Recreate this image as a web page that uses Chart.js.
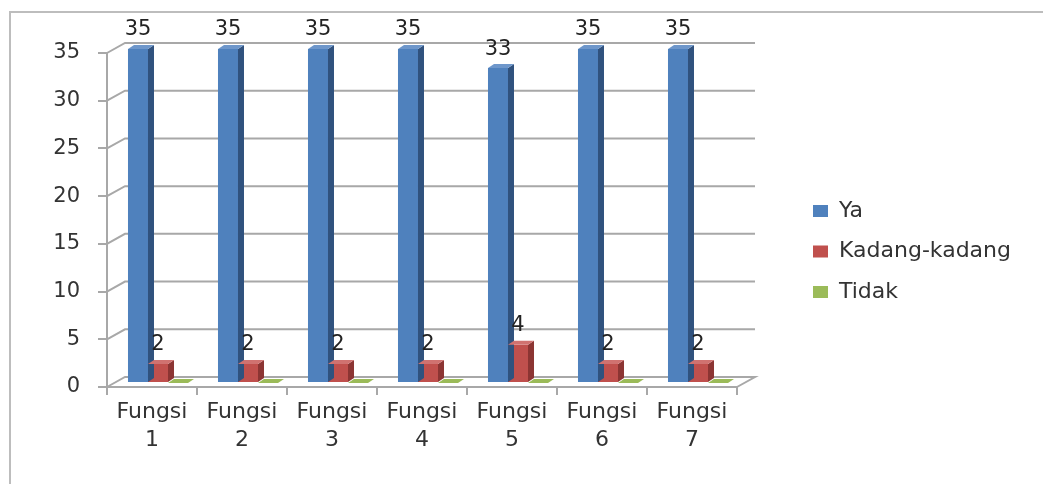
<!DOCTYPE html>
<html>
<head>
<meta charset="utf-8">
<script src="https://cdn.jsdelivr.net/npm/chart.js@4.4.1/dist/chart.umd.min.js"></script>
<style>
  html, body { margin: 0; padding: 0; background: #fff; overflow: hidden; }
  #wrap { position: relative; width: 1043px; height: 484px; overflow: hidden; }
  #frame { position: absolute; left: 9px; top: 11px; width: 1100px; height: 600px;
           border-left: 2px solid #bdbdbd; border-top: 2px solid #bdbdbd; pointer-events: none; }
  canvas { position: absolute; left: 0; top: 0; }
</style>
</head>
<body>
<div id="wrap">
  <canvas id="c" width="1043" height="484"></canvas>
  <div id="frame"></div>
</div>
<script>
// ---- data ----
const categories = [['Fungsi','1'], ['Fungsi','2'], ['Fungsi','3'], ['Fungsi','4'], ['Fungsi','5'], ['Fungsi','6'], ['Fungsi','7']];
const seriesNames = ['Ya', 'Kadang-kadang', 'Tidak'];
const yaValues = [35, 35, 35, 35, 33, 35, 35];
const kadangValues = [2, 2, 2, 2, 4, 2, 2];
const tidakValues = [0, 0, 0, 0, 0, 0, 0];
const yTickMin = 0, yTickMax = 35, yTickStep = 5;

// ---- style ----
const FONT = 'DejaVu Sans';
const TEXT = '#333333';
const frontColors = ['#4F81BD', '#C0504D', '#9BBB59'];
const sideColors  = ['#30527E', '#8C3533', '#76923C'];
const topColors   = ['#6E97CB', '#D07270', '#9BBB59'];
const gridColor = '#A8A8A8';
const WALL_DX = 18, WALL_DY = 10;   // depth of the 3-D walls
const BAR_DX = 6, BAR_DY = 4;       // depth of each bar
const SHIFT_X = 6, SHIFT_Y = -4;    // bars sit mid-depth

const threeD = {
  id: 'threeD',
  beforeUpdate(chart) {
    const lg = chart.legend;
    if (lg && !lg._fixedWidth) {
      const f = lg.fit;
      lg.fit = function () { f.call(this); this.width = 248.5; };
      lg._fixedWidth = true;
    }
  },
  beforeDatasetsDraw(chart) {
    const {ctx, chartArea: a, scales} = chart;
    const y = scales.y;
    ctx.save();
    ctx.strokeStyle = gridColor;
    ctx.lineWidth = 2;
    for (let v = yTickMin; v <= yTickMax; v += yTickStep) {
      const py = y.getPixelForValue(v);
      ctx.beginPath();
      ctx.moveTo(a.left, py);
      ctx.lineTo(a.left + WALL_DX, py - WALL_DY);
      ctx.lineTo(a.right + WALL_DX, py - WALL_DY);
      if (v === yTickMin) ctx.lineTo(a.right, py);
      ctx.stroke();
    }
    ctx.restore();
    ctx.save();
    ctx.translate(SHIFT_X, SHIFT_Y);
  },
  afterDatasetsDraw(chart) {
    const {ctx} = chart;
    chart.data.datasets.forEach((ds, di) => {
      const meta = chart.getDatasetMeta(di);
      meta.data.forEach((bar) => {
        const {x, y, base, width} = bar.getProps(['x', 'y', 'base', 'width'], true);
        const x0 = x - width / 2, x1 = x + width / 2;
        if (base - y > 0.5) {
          ctx.fillStyle = sideColors[di];
          ctx.beginPath();
          ctx.moveTo(x1, y);
          ctx.lineTo(x1 + BAR_DX, y - BAR_DY);
          ctx.lineTo(x1 + BAR_DX, base - BAR_DY);
          ctx.lineTo(x1, base);
          ctx.closePath();
          ctx.fill();
        }
        ctx.fillStyle = topColors[di];
        ctx.beginPath();
        ctx.moveTo(x0, y);
        ctx.lineTo(x1, y);
        ctx.lineTo(x1 + BAR_DX, y - BAR_DY);
        ctx.lineTo(x0 + BAR_DX, y - BAR_DY);
        ctx.closePath();
        ctx.fill();
      });
    });
    ctx.restore();
    // value labels
    ctx.save();
    ctx.font = '21px "' + FONT + '"';
    ctx.fillStyle = '#222222';
    ctx.textAlign = 'center';
    ctx.textBaseline = 'middle';
    [0, 1].forEach((di) => {
      const meta = chart.getDatasetMeta(di);
      meta.data.forEach((bar, i) => {
        const v = chart.data.datasets[di].data[i];
        ctx.fillText(String(v), bar.x + SHIFT_X, bar.y + SHIFT_Y - 19);
      });
    });
    ctx.restore();
  }
};

new Chart(document.getElementById('c'), {
  type: 'bar',
  data: {
    labels: categories,
    datasets: [
      { label: seriesNames[0], data: yaValues, backgroundColor: frontColors[0] },
      { label: seriesNames[1], data: kadangValues, backgroundColor: frontColors[1] },
      { label: seriesNames[2], data: tidakValues, backgroundColor: frontColors[2] }
    ]
  },
  options: {
    responsive: false,
    animation: false,
    devicePixelRatio: 1,
    layout: { padding: { left: 0, top: 19, right: 0, bottom: 0 } },
    datasets: { bar: { categoryPercentage: 0.667, barPercentage: 1.0 } },
    plugins: {
      tooltip: { enabled: false },
      legend: {
        position: 'right',
        align: 'center',
        labels: {
          boxWidth: 15, boxHeight: 12, padding: 18.5,
          color: TEXT,
          font: { family: FONT, size: 22 }
        }
      }
    },
    scales: {
      x: {
        position: 'bottom',
        offset: true,
        grid: { offset: true, drawOnChartArea: false, drawTicks: true, tickLength: 8, color: gridColor, lineWidth: 2 },
        border: { display: true, color: gridColor, width: 2 },
        ticks: { color: TEXT, font: { family: FONT, size: 22, lineHeight: 1.27 }, padding: 3, maxRotation: 0, autoSkip: false },
        afterFit(s) { s.height = 97; }
      },
      xTop: {
        type: 'category',
        position: 'top',
        display: true,
        grid: { display: false },
        border: { display: false },
        ticks: { display: false },
        afterFit(s) { s.height = 34; }
      },
      y: {
        position: 'left',
        min: yTickMin, max: yTickMax,
        grid: { drawOnChartArea: false, drawTicks: true, tickLength: 9, color: gridColor, lineWidth: 2 },
        border: { display: true, color: gridColor, width: 2 },
        ticks: { stepSize: yTickStep, color: TEXT, font: { family: FONT, size: 21 }, padding: 18 },
        afterFit(s) { s.width = 107; }
      },
      yRight: {
        type: 'linear',
        position: 'right',
        display: true,
        grid: { display: false },
        border: { display: false },
        ticks: { display: false },
        afterFit(s) { s.width = 57.5; }
      }
    }
  },
  plugins: [threeD]
});
</script>
</body>
</html>
